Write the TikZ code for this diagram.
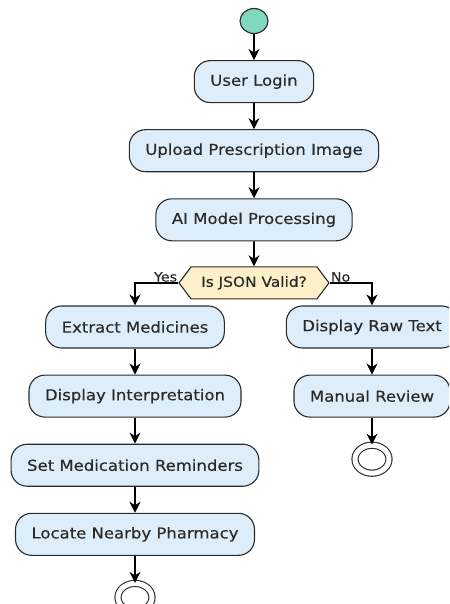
\documentclass[tikz,border=0pt]{standalone}
\usepackage{fontspec}
\setmainfont{DejaVu Sans}[FakeStretch=1.1, FakeBold=0.35]
\usetikzlibrary{positioning,arrows.meta,shapes.geometric,shapes.symbols}
\definecolor{actfill}{HTML}{DDEEFA}
\definecolor{decfill}{HTML}{FDF0C8}
\definecolor{startfill}{HTML}{80D8BF}
\definecolor{ink}{HTML}{2A2A2A}

\begin{document}
\begin{tikzpicture}[x=1pt, y=-1pt, node distance={26pt},
    act/.style = {draw=ink, line width=1.1pt, fill=actfill, rounded corners=16pt,
        minimum height=42pt, inner xsep=16pt, text=ink,
        font=\fontsize{15pt}{17pt}\selectfont},
    dec/.style = {draw=ink, line width=1.1pt, fill=decfill, signal, signal to=west and east,
        signal pointer angle=106, minimum height=32pt, minimum width=150pt, inner xsep=3pt,
        text=ink, font=\fontsize{14pt}{16pt}\selectfont},
    begin/.style = {draw=ink, line width=1.1pt, fill=startfill, ellipse,
        minimum width=28pt, minimum height=25pt, inner sep=0pt},
    stop/.style = {draw=ink, line width=1.1pt, fill=white, ellipse, double, double distance=5pt,
        minimum width=34pt, minimum height=28pt, inner sep=0pt},
    lbl/.style = {inner sep=1pt, text=ink, font=\fontsize{13pt}{15pt}\selectfont},
    arr/.style = {-{Stealth[length=11pt, width=11pt, inset=3.5pt]}, line width=1.6pt, draw=black}]
    \clip (0,0) rectangle (449,604);
    % main flow
    \node[begin] (start) at (254,21) {};
    \node[act] (login) [below=of start] {User Login};
    \node[act] (upload) [below=of login] {Upload Prescription Image};
    \node[act] (ai) [below=of upload] {AI Model Processing};
    \node[dec] (json) [below=25pt of ai] {Is JSON Valid?};
    % yes branch
    \node[act] (extract) at (135,327) {Extract Medicines};
    \node[act] (interp) [below=of extract] {Display Interpretation};
    \node[act] (remind) [below=of interp] {Set Medication Reminders};
    \node[act] (pharm) [below=of remind] {Locate Nearby Pharmacy};
    \node[stop] (end1) [below=27pt of pharm] {};
    % no branch
    \node[act] (raw) at (372,327) {Display Raw Text};
    \node[act] (review) [below=of raw] {Manual Review};
    \node[stop] (end2) [below=27pt of review] {};
    \node[lbl, anchor=south east] (yes) at (json.west) {Yes};
    \node[lbl, anchor=south west] (no) at (json.east) {No};
    \draw[arr] (start) -- (login);
    \draw[arr] (login) -- (upload);
    \draw[arr] (upload) -- (ai);
    \draw[arr] (ai) -- (json);
    \draw[arr] (json.west) -| (extract);
    \draw[arr] (json.east) -| (raw);
    \draw[arr] (extract) -- (interp);
    \draw[arr] (interp) -- (remind);
    \draw[arr] (remind) -- (pharm);
    \draw[arr] (pharm) -- (end1);
    \draw[arr] (raw) -- (review);
    \draw[arr] (review) -- (end2);
\end{tikzpicture}
\end{document}
